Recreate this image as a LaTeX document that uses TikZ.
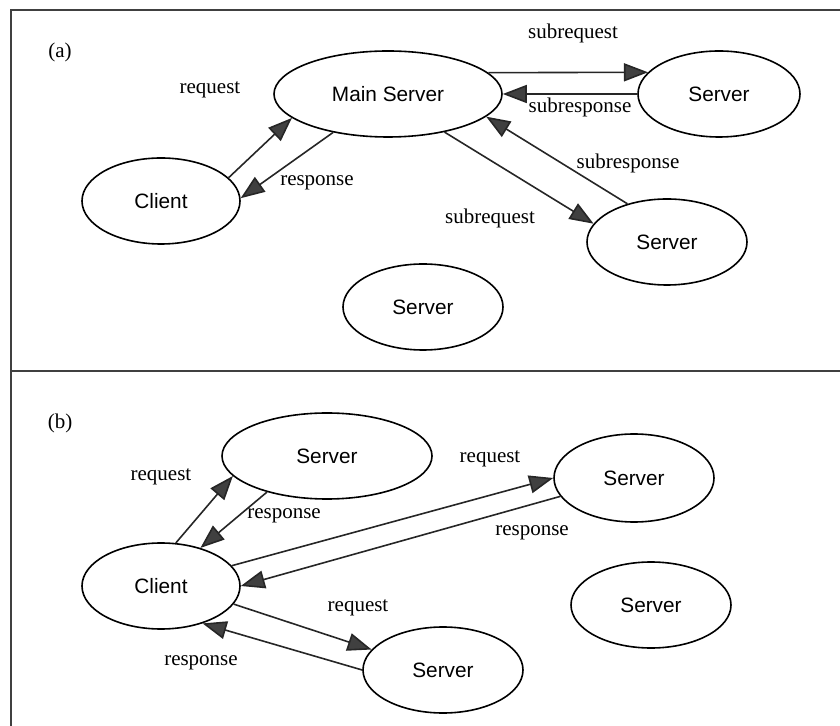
\documentclass[tikz,border=0pt]{standalone}
\usepackage{fontspec}
\setmainfont{Liberation Serif}
\setsansfont{Liberation Sans}
\usetikzlibrary{arrows.meta,shapes.geometric}

\begin{document}
\begin{tikzpicture}[x=0.5pt, y=-0.5pt,
    host/.style={draw, ellipse, line width=0.8pt, inner sep=0pt, minimum width=80pt, minimum height=43pt, font=\sffamily\fontsize{10.4}{12}\selectfont},
    lbl/.style={inner sep=1pt, font=\fontsize{10.5}{12}\selectfont},
    msg/.style={-{Triangle[length=12pt, width=9pt, fill=black!75]}, line width=0.8pt, black!85},
    divider/.style={line width=1pt, black!75}
]
\useasboundingbox (0,0) rectangle (840,726);

% Frame
\draw[divider] (840,10) -- (11,10) -- (11,726);
\draw[divider] (11,371) -- (840,371);

% Panel (a): client talks to the main server
\node[lbl] (tagA) at (60,52) {(a)};
\node[host, minimum width=114pt] (mainsrv) at (388,94) {Main Server};
\node[host, minimum width=79pt] (clientA) at (161,201) {Client};
\node[host, minimum width=81pt] (srvA1) at (719,94) {Server};
\node[host] (srvA2) at (667,242) {Server};
\node[host] (srvA3) at (423,307) {Server};

\node[lbl] (reqA) at (210,90) {request};
\node[lbl] (resA) at (317,183) {response};
\node[lbl] (subreqA1) at (573,33) {subrequest};
\node[lbl] (subresA1) at (580,107) {subresponse};
\node[lbl] (subresA2) at (628,163) {subresponse};
\node[lbl] (subreqA2) at (490,218) {subrequest};

% Arrows (a)
\draw[msg] (clientA.19) -- (mainsrv.194);
\draw[msg] (mainsrv.215) -- (clientA.2);
\draw[msg] (mainsrv.12) -- (srvA1.163.5);
\draw[msg] (srvA1.west) -- (mainsrv.east);
\draw[msg] (srvA2.136) -- (mainsrv.347);
\draw[msg] (mainsrv.326) -- (srvA2.166);

% Panel (b): client talks to every server
\node[lbl] (tagB) at (60,423) {(b)};
\node[host, minimum width=79pt] (clientB) at (161,586) {Client};
\node[host, minimum width=105pt] (srvB1) at (327,456) {Server};
\node[host, minimum height=44pt] (srvB2) at (634,478) {Server};
\node[host] (srvB3) at (651,605) {Server};
\node[host] (srvB4) at (443,670) {Server};

\node[lbl] (reqB1) at (161,477) {request};
\node[lbl] (resB1) at (284,516) {response};
\node[lbl] (reqB2) at (490,459) {request};
\node[lbl] (resB2) at (532,533) {response};
\node[lbl] (reqB3) at (358,608) {request};
\node[lbl] (resB3) at (201,663) {response};

% Arrows (b)
\draw[msg] (clientB.71) -- (srvB1.192);
\draw[msg] (srvB1.211) -- (clientB.44);
\draw[msg] (clientB.16) -- (srvB2.west);
\draw[msg] (srvB2.194) -- (clientB.east);
\draw[msg] (clientB.346) -- (srvB4.164);
\draw[msg] (srvB4.west) -- (clientB.318);

\end{tikzpicture}
\end{document}
